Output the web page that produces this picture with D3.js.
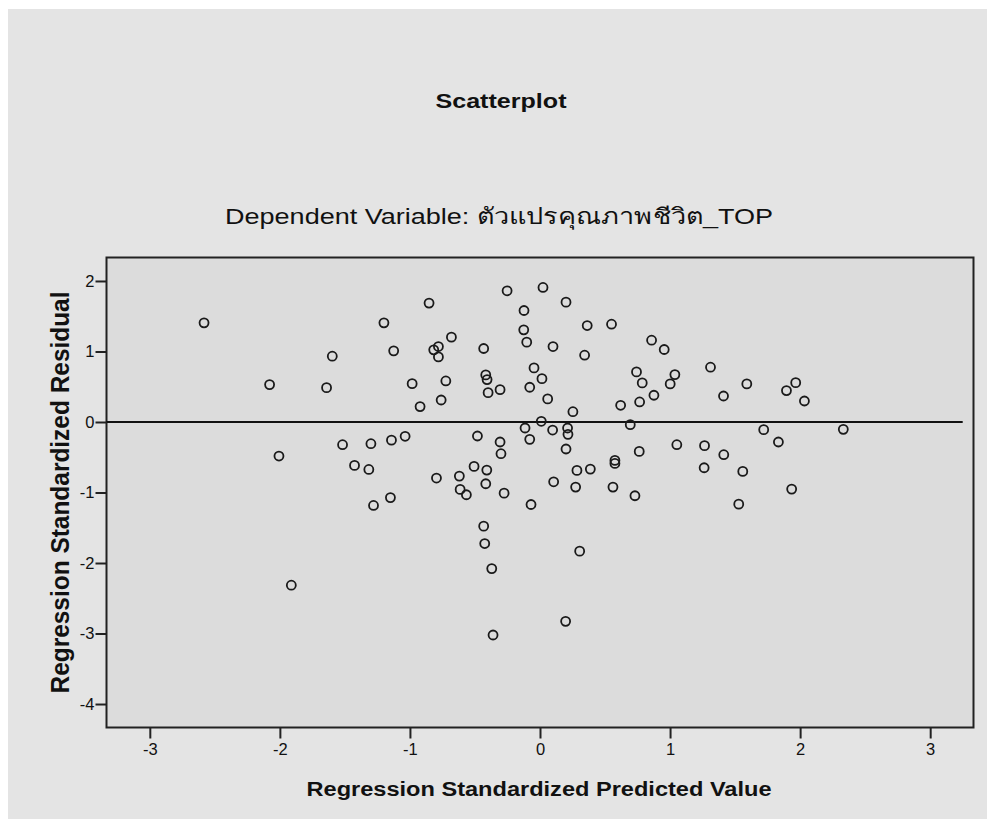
<!DOCTYPE html>
<html><head><meta charset="utf-8">
<script src="https://cdn.jsdelivr.net/npm/d3@7"></script>
<style>body{margin:0;background:#fff}svg{display:block}text{font-family:"Liberation Sans",Arial,sans-serif}</style>
</head><body>
<script>
const predicted = [-2.583,-1.597,-2.079,-1.641,-1.200,-1.125,-2.007,-1.518,-1.300,-1.142,-1.426,-1.316,-1.280,-1.150,-1.912,
-0.853,-0.253,0.023,0.200,-0.123,-0.125,-0.102,0.363,0.550,-0.817,-0.781,-0.781,-0.681,-0.433,0.100,0.343,0.858,0.955,
-0.983,-0.724,-0.922,-0.760,-0.417,-0.407,-0.399,-0.307,-0.046,0.015,-0.079,0.059,0.253,0.620,0.742,0.786,0.766,0.876,1.001,1.037,
0.010,-0.115,-0.079,0.097,0.212,0.215,0.200,0.694,-1.037,-0.481,-0.307,-0.300,0.763,1.052,0.576,0.576,0.284,0.387,
-0.507,-0.409,-0.796,-0.620,-0.417,0.105,0.274,0.561,-0.614,-0.566,-0.276,-0.069,0.730,-0.433,-0.425,0.305,-0.371,0.197,-0.361,
1.311,1.411,1.590,1.966,1.895,2.033,1.720,2.332,1.833,1.265,1.413,1.262,1.559,1.935,1.528];
const residual = [1.406,0.933,0.530,0.487,1.406,1.009,-0.483,-0.322,-0.308,-0.258,-0.616,-0.673,-1.184,-1.072,-2.315,
1.686,1.861,1.908,1.700,1.581,1.307,1.132,1.368,1.387,1.023,1.070,0.923,1.203,1.042,1.070,0.947,1.160,1.028,
0.544,0.582,0.218,0.312,0.668,0.601,0.416,0.459,0.767,0.615,0.493,0.327,0.146,0.237,0.710,0.554,0.284,0.379,0.540,0.672,
0.010,-0.085,-0.246,-0.114,-0.085,-0.175,-0.383,-0.038,-0.203,-0.199,-0.284,-0.450,-0.417,-0.322,-0.545,-0.587,-0.687,-0.668,
-0.630,-0.682,-0.795,-0.767,-0.876,-0.848,-0.923,-0.923,-0.956,-1.032,-1.009,-1.170,-1.046,-1.477,-1.724,-1.832,-2.079,-2.827,-3.021,
0.777,0.369,0.540,0.558,0.445,0.298,-0.109,-0.104,-0.284,-0.336,-0.464,-0.649,-0.701,-0.952,-1.165];
const xTicks = [-3,-2,-1,0,1,2,3];
const yTicks = [-4,-3,-2,-1,0,1,2];
const title = "Scatterplot";
const subtitle = "Dependent Variable: ตัวแปรคุณภาพชีวิต_TOP";
const xLabel = "Regression Standardized Predicted Value";
const yLabel = "Regression Standardized Residual";

const W = 987, H = 819;
const svg = d3.select("body").append("svg").attr("width", W).attr("height", H);
svg.append("rect").attr("x", 8).attr("y", 9).attr("width", W - 8).attr("height", H - 9).attr("fill", "#e4e4e4");

const L = 106.5, R = 973.5, T = 257.5, B = 727.5;
const x = d3.scaleLinear().domain([-3.333, 3.333]).range([L, R]);
const y = d3.scaleLinear().domain([-4.333, 2.333]).range([B, T]);

svg.append("rect").attr("x", L).attr("y", T).attr("width", R - L).attr("height", B - T)
  .attr("fill", "#dcdcdc").attr("stroke", "#222").attr("stroke-width", 2);

// reference line at 0
svg.append("line").attr("x1", L).attr("x2", x(3.25)).attr("y1", y(0)).attr("y2", y(0))
  .attr("stroke", "#111").attr("stroke-width", 1.8);

const fmt = d => d < 0 ? "-" + Math.abs(d) : String(d);
const xAxis = svg.append("g").attr("transform", `translate(0,${B})`)
  .call(d3.axisBottom(x).tickValues(xTicks).tickSize(11).tickPadding(5).tickFormat(fmt));
const yAxis = svg.append("g").attr("transform", `translate(${L},0)`)
  .call(d3.axisLeft(y).tickValues(yTicks).tickSize(11).tickPadding(1).tickFormat(fmt));
[xAxis, yAxis].forEach(g => {
  g.select(".domain").remove();
  g.selectAll(".tick line").attr("stroke", "#222").attr("stroke-width", 2);
  g.selectAll(".tick text").attr("fill", "#111").style("font-size", "16.5px").style("font-family", "'Liberation Sans', Arial, sans-serif");
});

svg.append("g").selectAll("circle").data(predicted.map((p, i) => [p, residual[i]])).join("circle")
  .attr("cx", d => x(d[0])).attr("cy", d => y(d[1])).attr("r", 4.5)
  .attr("fill", "none").attr("stroke", "#1a1a1a").attr("stroke-width", 1.8);

svg.append("text").attr("x", 501).attr("y", 108).attr("text-anchor", "middle")
  .attr("textLength", 131).attr("lengthAdjust", "spacingAndGlyphs")
  .style("font-size", "20px").style("font-weight", "bold").attr("fill", "#111").text(title);
svg.append("text").attr("x", 499).attr("y", 224).attr("text-anchor", "middle")
  .attr("textLength", 548).attr("lengthAdjust", "spacingAndGlyphs")
  .style("font-size", "22px").attr("fill", "#111").text(subtitle);
svg.append("text").attr("x", 539).attr("y", 796).attr("text-anchor", "middle")
  .attr("textLength", 465).attr("lengthAdjust", "spacingAndGlyphs")
  .style("font-size", "20px").style("font-weight", "bold").attr("fill", "#111").text(xLabel);
svg.append("text").attr("transform", `translate(69,${(T + B) / 2}) scale(1.25,1) rotate(-90)`).attr("text-anchor", "middle")
  .attr("textLength", 402).attr("lengthAdjust", "spacingAndGlyphs")
  .style("font-size", "20px").style("font-weight", "bold").attr("fill", "#111").text(yLabel);
</script>
</body></html>
